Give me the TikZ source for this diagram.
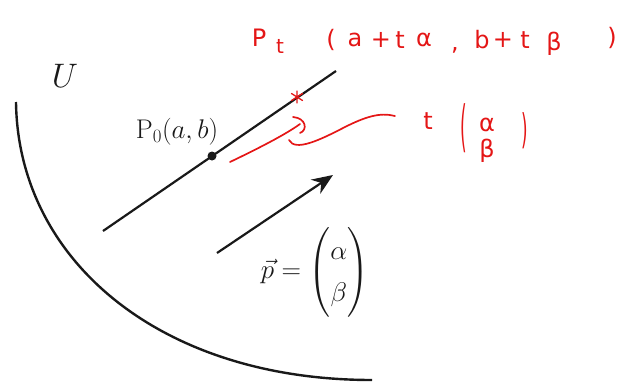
\RequirePackage{fix-cm}
\documentclass[tikz,border=0pt]{standalone}
\usepackage{amsmath}
\usepackage{fontspec}
\newfontfamily\hand{DejaVu Sans}
\usetikzlibrary{arrows.meta}
\definecolor{ink}{RGB}{228,22,22}
\definecolor{pen}{RGB}{25,25,25}
\begin{document}
\begin{tikzpicture}[x=1pt,y=-1pt,
  blk/.style={line width=2.2pt,draw=pen},
  redink/.style={draw=ink, line width=1.7pt, line cap=round},
  redtxt/.style={text=ink, font=\hand\fontsize{24}{28}\selectfont, inner sep=0pt},
  mathlbl/.style={font=\fontsize{27}{32}\selectfont, inner sep=0pt, text=pen}]
\useasboundingbox (0,0) rectangle (635,381);
% boundary of U
\coordinate (cs) at (16,102);
\coordinate (ce) at (372,380);
\draw[line width=2.4pt,draw=pen] (cs) .. controls (18,260) and (160,380) .. (ce);
\node[font=\fontsize{34}{40}\selectfont, inner sep=0pt, text=pen] (U) at (65,76) {$U$};
% line through P0
\coordinate (la) at (103,231);
\coordinate (lb) at (336,71);
\draw[blk] (la) -- (lb);
\node[circle,fill=pen,inner sep=0pt,minimum size=9pt] (p0) at (212,156) {};
\node[mathlbl, anchor=base] (p0lbl) at (177,138) {$\mathrm{P}_0(a,b)$};
% direction vector
\coordinate (va) at (217,253);
\coordinate (vb) at (333,175);
\draw[blk, -{Stealth[length=21pt,width=17pt]}] (va) -- (vb);
\node[mathlbl] (pvec) at (315,272) {\renewcommand{\arraystretch}{1.3}$\vec p = \begin{pmatrix}\alpha\\ \beta\end{pmatrix}$};
% red handwriting
\node[redtxt] (rP) at (259,38) {P};
\node[redtxt, font=\hand\fontsize{20}{24}\selectfont] (rt) at (280,46) {t};
\node[redtxt] (r1) at (331,40) {(};
\node[redtxt] (r2) at (355,40) {a};
\node[redtxt] (r3) at (381,40) {+};
\node[redtxt] (r4) at (400,40) {t};
\node[redtxt] (r5) at (424,40) {α};
\node[redtxt] (r6) at (455,50) {,};
\node[redtxt] (r7) at (482,40) {b};
\node[redtxt] (r8) at (503,40) {+};
\node[redtxt] (r9) at (525,40) {t};
\node[redtxt] (r10) at (554,44) {β};
\node[redtxt] (r11) at (612,38) {)};
% t (alpha beta)
\node[redtxt] (s1) at (428,121) {t};
\node[redtxt] (s2) at (464,128) {\scalebox{0.7}[2.3]{(}};
\node[redtxt, align=center] (s3) at (487,140) {α\\[-2pt]β};
\node[redtxt] (s5) at (525,131) {\scalebox{0.7}[1.7]{)}};
% asterisk
\coordinate (ast) at (297,97);
\draw[redink,line width=1.3pt] ([shift={(0,-6)}]ast) -- ([shift={(0,6)}]ast)
  ([shift={(-5.5,-3.5)}]ast) -- ([shift={(5.5,3.5)}]ast)
  ([shift={(-5.5,3.5)}]ast) -- ([shift={(5.5,-3.5)}]ast);
% red curves
\coordinate (c1) at (230,162);
\coordinate (c2) at (300,124);
\draw[redink] (c1) .. controls (255,150) and (285,135) .. (c2);
\coordinate (h1) at (293,117);
\coordinate (h2) at (300,133);
\draw[redink] (h1) .. controls (306,118) and (308,130) .. (h2);
\coordinate (w1) at (289,140);
\coordinate (w2) at (345,127);
\coordinate (w3) at (395,116);
\draw[redink] (w1) .. controls (295,152) and (320,140) .. (w2) .. controls (365,117) and (380,112) .. (w3);
\end{tikzpicture}
\end{document}
